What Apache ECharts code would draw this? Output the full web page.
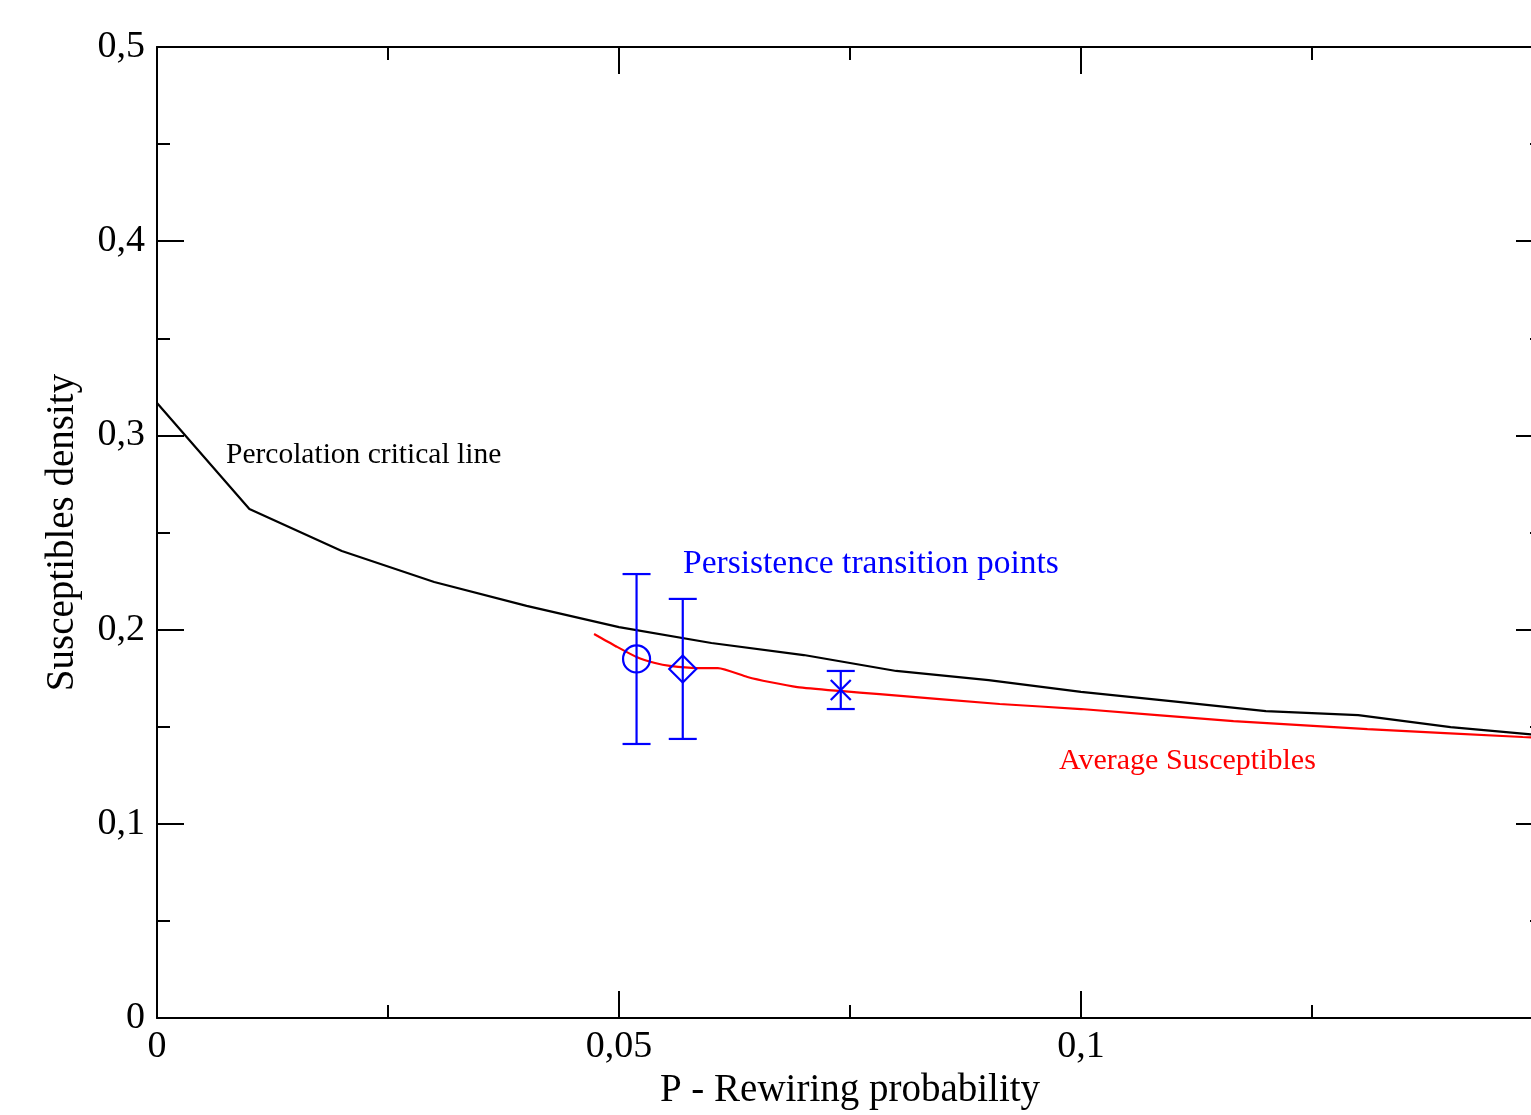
<!DOCTYPE html>
<html>
<head>
<meta charset="utf-8">
<script src="https://cdn.jsdelivr.net/npm/echarts@6/dist/echarts.min.js"></script>
<style>html,body{margin:0;padding:0;background:#fff;}#c{width:1531px;height:1115px;}</style>
</head>
<body>
<div id="c"></div>
<script>
// Percolation critical line
var percP = [0, 0.01, 0.02, 0.03, 0.04, 0.05, 0.06, 0.07, 0.08, 0.09, 0.10, 0.11, 0.12, 0.13, 0.14, 0.15];
var percS = [0.3167, 0.2621, 0.2405, 0.2245, 0.2122, 0.2013, 0.1931, 0.1869, 0.1787, 0.1740, 0.1679, 0.1630, 0.1580, 0.1560, 0.1498, 0.1455];
// Average susceptibles
var avgP = [0.0473, 0.0496, 0.0519, 0.0539, 0.0555, 0.0584, 0.0607, 0.0639, 0.0663, 0.0693, 0.0739, 0.0782, 0.0912, 0.1000, 0.1165, 0.1310, 0.1478, 0.1500];
var avgS = [0.1977, 0.1916, 0.1859, 0.1828, 0.1813, 0.1802, 0.1802, 0.1756, 0.1730, 0.1704, 0.1684, 0.1668, 0.1617, 0.1591, 0.1529, 0.1488, 0.1447, 0.1442];
// Persistence transition points
var persP = [0.0519, 0.0569, 0.0740];
var persS = [0.1849, 0.1797, 0.1689];
var persLow = [0.1411, 0.1437, 0.1591];
var persHigh = [0.2286, 0.2158, 0.1787];
var persMarker = ['circle', 'diamond', 'x'];
// Axis ticks
var xMin = 0, xMax = 0.15, xStep = 0.05;
var yMin = 0, yMax = 0.5, yStep = 0.1;

function zip(a, b) { return a.map(function (v, i) { return [v, b[i]]; }); }
function fmt(v) { return String(+v.toFixed(4)).replace('.', ','); }

var FONT = 'Liberation Serif';
var chart = echarts.init(document.getElementById('c'), null, { renderer: 'canvas' });

var tickCommon = { inside: true, length: 27, lineStyle: { color: '#000', width: 2 } };
var minorCommon = { show: true, splitNumber: 2, length: 13, lineStyle: { color: '#000', width: 2 } };
var lineCommon = { show: true, onZero: false, lineStyle: { color: '#000', width: 2 } };

var option = {
  backgroundColor: '#fff',
  animation: false,
  grid: { left: 157, top: 47, width: 1386, height: 971, outerBoundsMode: 'none', containLabel: false },
  xAxis: [{
    type: 'value', min: xMin, max: xMax, interval: xStep, position: 'bottom',
    axisLine: lineCommon, axisTick: tickCommon, minorTick: minorCommon,
    splitLine: { show: false },
    axisLabel: { show: true, showMaxLabel: false, margin: 10, fontFamily: FONT, fontSize: 38, color: '#000', formatter: fmt },
    name: 'P - Rewiring probability', nameLocation: 'middle', nameGap: 53,
    nameTextStyle: { fontFamily: FONT, fontSize: 39, color: '#000' }
  }, {
    type: 'value', min: xMin, max: xMax, interval: xStep, position: 'top',
    axisLine: lineCommon, axisTick: tickCommon, minorTick: minorCommon,
    splitLine: { show: false }, axisLabel: { show: false }
  }],
  yAxis: [{
    type: 'value', min: yMin, max: yMax, interval: yStep, position: 'left',
    axisLine: lineCommon, axisTick: tickCommon, minorTick: minorCommon,
    splitLine: { show: false },
    axisLabel: { show: true, margin: 12, fontFamily: FONT, fontSize: 38, color: '#000', formatter: fmt },
    name: 'Susceptibles density', nameLocation: 'middle', nameGap: 75,
    nameTextStyle: { fontFamily: FONT, fontSize: 39, color: '#000' }
  }, {
    type: 'value', min: yMin, max: yMax, interval: yStep, position: 'right',
    axisLine: lineCommon, axisTick: tickCommon, minorTick: minorCommon,
    splitLine: { show: false }, axisLabel: { show: false }
  }],
  series: [{
    type: 'line', name: 'Percolation critical line', data: zip(percP, percS),
    showSymbol: false, symbol: 'none', lineStyle: { color: '#000', width: 2.2 }, z: 3
  }, {
    type: 'line', name: 'Average Susceptibles', data: zip(avgP, avgS),
    showSymbol: false, symbol: 'none', smooth: 0.2, lineStyle: { color: '#ff0000', width: 2.2 }, z: 4
  }, {
    type: 'custom', name: 'Persistence transition points', z: 5,
    data: persP.map(function (p, i) { return [p, persS[i], persLow[i], persHigh[i]]; }),
    renderItem: function (params, api) {
      var c = api.coord([api.value(0), api.value(1)]);
      var t = api.coord([api.value(0), api.value(3)]);
      var b = api.coord([api.value(0), api.value(2)]);
      var st = { stroke: '#0000ff', lineWidth: 2.2, fill: null };
      var cap = 14;
      var ch = [
        { type: 'line', shape: { x1: c[0], y1: t[1], x2: c[0], y2: b[1] }, style: st },
        { type: 'line', shape: { x1: c[0] - cap, y1: t[1], x2: c[0] + cap, y2: t[1] }, style: st },
        { type: 'line', shape: { x1: c[0] - cap, y1: b[1], x2: c[0] + cap, y2: b[1] }, style: st }
      ];
      var m = persMarker[params.dataIndex];
      if (m === 'circle') {
        ch.push({ type: 'circle', shape: { cx: c[0], cy: c[1], r: 13.5 }, style: st });
      } else if (m === 'diamond') {
        var h = 13.5;
        ch.push({ type: 'polygon', shape: { points: [[c[0], c[1] - h], [c[0] + h, c[1]], [c[0], c[1] + h], [c[0] - h, c[1]]] }, style: st });
      } else {
        var s = 10;
        ch.push({ type: 'line', shape: { x1: c[0] - s, y1: c[1] - s, x2: c[0] + s, y2: c[1] + s }, style: st });
        ch.push({ type: 'line', shape: { x1: c[0] - s, y1: c[1] + s, x2: c[0] + s, y2: c[1] - s }, style: st });
      }
      return { type: 'group', children: ch };
    }
  }],
  graphic: [
    { type: 'text', left: 226, top: 440, style: { text: 'Percolation critical line', fill: '#000', font: '29.5px "Liberation Serif"' } },
    { type: 'text', left: 683, top: 547, style: { text: 'Persistence transition points', fill: '#0000ff', font: '33.5px "Liberation Serif"' } },
    { type: 'text', left: 1059, top: 746, style: { text: 'Average Susceptibles', fill: '#ff0000', font: '30px "Liberation Serif"' } }
  ]
};
chart.setOption(option);
</script>
</body>
</html>
